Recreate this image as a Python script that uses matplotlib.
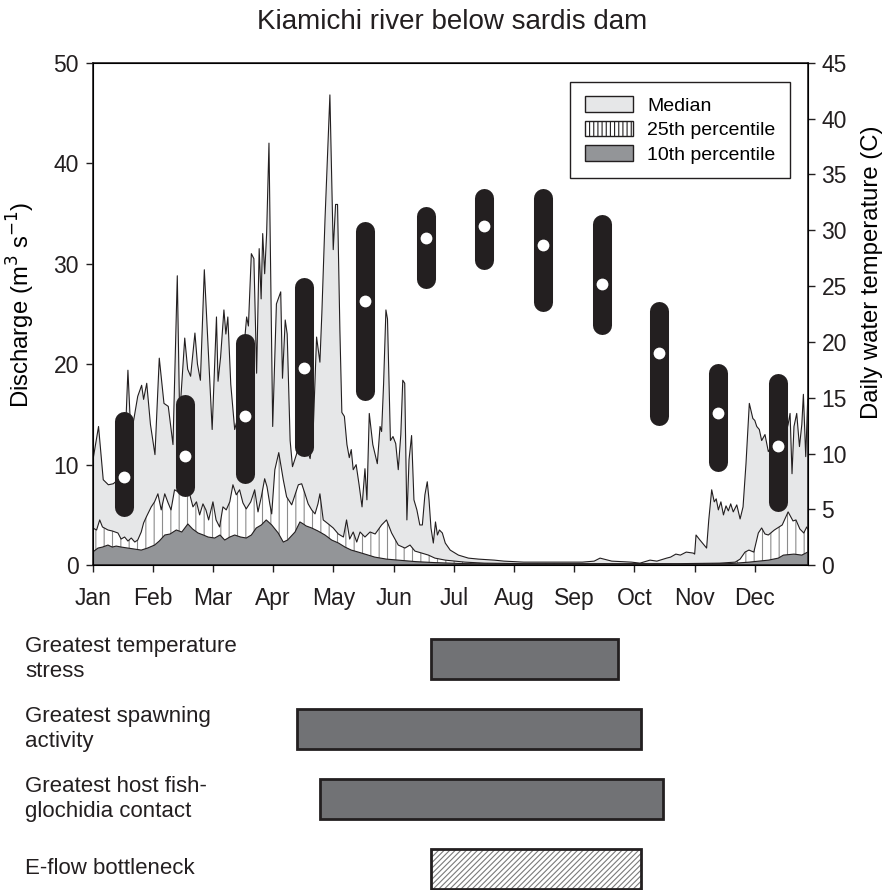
import numpy as np
import matplotlib.pyplot as plt
import matplotlib.transforms as mtransforms
from matplotlib.patches import Patch

plt.rcParams['font.family'] = ['Liberation Sans', 'DejaVu Sans']
plt.rcParams['hatch.linewidth'] = 0.8

# --- daily discharge (m3/s) ---
med_day = [0, 3, 5.4, 8, 10.5, 13, 16, 18, 19.5, 21, 23, 25, 26, 27.6, 29.5, 31.8, 34, 36.4,
           38.6, 41, 43.2, 44.4, 47, 48.5, 50, 52.2, 53.5, 55, 57, 59, 61, 63.2, 64, 65.3, 67,
           68, 69, 70.5, 72.5, 74.5, 76.5, 78.6, 79.5, 81, 82.3, 83.7, 85, 86, 86.8, 87.8, 88.8,
           90, 91.9, 93.8, 96, 96.9, 98.3, 99.3, 100.8, 102, 104, 106, 108.5, 111, 112.5, 114.3,
           116, 117, 118.6, 121.1, 122.8, 124, 125, 126.2, 127.2, 128.5, 129.8, 131, 132, 133,
           134.5, 136, 137.5, 139, 140, 141.2, 143, 145.3, 146.7, 147.5, 148.5, 149.7, 150.5,
           152, 153.3, 154.7, 156, 157.3, 158.3, 159.3, 160.4, 161.5, 162.8, 164, 165.5, 167,
           168.3, 169.6, 170.8, 171.7, 172.7, 173.9, 175, 176, 177, 178.5, 180, 182.5, 186.7,
           191.8, 197, 205, 210, 220, 235, 250, 256, 259, 261, 265, 275, 279.4, 284.5, 288, 293,
           295, 297.7, 300, 303, 306.6, 307.3, 308, 310, 313.4, 314.5, 316, 317.3, 318.3, 319.4,
           320.7, 322, 323.3, 324.5, 325.7, 327, 328.8, 330.5, 332, 333.5, 335.2, 337, 338, 339,
           340.3, 341.5, 343.2, 344.9, 347, 350, 353, 355, 356, 357, 358, 359.4, 360.8, 362,
           362.8, 364, 365]
med_q = [10.3, 13.8, 8.5, 8.0, 8.1, 8.5, 9.5, 19.4, 13.0, 14.5, 16.8, 17.9, 16.5, 18.1, 14.0,
         11.0, 20.6, 16.1, 15.8, 12.0, 28.8, 14.8, 22.6, 19.5, 18.8, 23.1, 20.0, 18.4, 29.4, 21.4,
         13.5, 24.7, 18.3, 20.7, 25.4, 23.0, 24.7, 18.0, 13.5, 15.0, 20.0, 24.7, 23.8, 31.0, 30.5,
         19.1, 31.5, 26.5, 33.0, 29.0, 33.0, 42.0, 13.8, 26.0, 27.2, 18.6, 24.4, 23.0, 12.4, 9.8,
         11.0, 12.5, 12.0, 10.6, 13.0, 22.7, 20.2, 25.1, 34.4, 46.8, 31.4, 35.9, 35.9, 23.4, 15.2,
         14.8, 12.0, 10.7, 11.5, 9.5, 10.0, 8.0, 5.8, 9.6, 6.5, 15.1, 12.0, 10.1, 13.8, 13.3,
         18.0, 25.4, 24.5, 12.4, 12.8, 12.1, 9.5, 13.0, 18.4, 18.1, 4.5, 10.5, 12.9, 6.5, 5.5,
         4.0, 4.0, 7.0, 8.3, 6.5, 3.7, 2.2, 4.3, 3.0, 3.5, 3.2, 2.2, 1.5, 1.0, 0.7, 0.6, 0.5,
         0.4, 0.3, 0.3, 0.3, 0.4, 0.7, 0.6, 0.4, 0.3, 0.2, 0.5, 0.4, 0.7, 0.8, 1.1, 1.0, 1.3,
         1.2, 1.1, 3.0, 2.5, 1.7, 4.5, 7.5, 6.3, 6.6, 5.5, 6.3, 5.0, 5.9, 5.4, 6.1, 5.3, 6.0,
         4.6, 5.8, 10.1, 16.1, 14.6, 14.4, 13.8, 13.5, 12.4, 13.0, 11.3, 12.0, 11.0, 12.5, 14.0,
         15.1, 9.1, 13.8, 15.1, 11.8, 14.0, 17.0, 10.8, 16.5]

q25_day = [0, 2, 3.6, 5, 7.8, 10, 12.9, 14.5, 16.3, 18, 19.7, 21.5, 23, 24.8, 26, 27.4, 29.9,
           31.6, 33.3, 35, 36.8, 38.5, 40, 41.8, 44.5, 47, 48.8, 51.2, 53, 54.6, 56.3, 57.8, 59.2,
           61.4, 63, 64.8, 66.5, 68.2, 70, 71.6, 73.3, 75, 76.7, 78.4, 80.7, 82.7, 84.4, 86.1,
           87.8, 89, 90.5, 91.4, 93, 95, 97.3, 99, 101.6, 103.3, 105, 106.7, 108.4, 110, 111.8,
           113.5, 115, 116, 117.7, 120.3, 122.8, 125.4, 128, 129.6, 131.2, 133, 134.8, 136.5, 139,
           141.6, 144.2, 147.5, 150, 152.6, 156, 159.4, 162, 164.5, 168, 171.4, 174.7, 180, 190,
           200, 220, 260, 300, 320, 328, 330.5, 333, 335, 337.5, 339.8, 341.5, 343.2, 344.9, 348,
           352, 355, 357.5, 359, 361, 363, 364.5, 365]
q25_q = [3.7, 3.5, 4.5, 3.8, 3.5, 3.4, 3.2, 2.6, 2.8, 2.4, 2.7, 2.3, 2.5, 3.3, 4.2, 4.8, 5.8,
         6.3, 7.1, 5.5, 7.1, 6.2, 5.5, 7.5, 7.2, 7.0, 7.6, 5.8, 6.3, 5.0, 6.1, 5.5, 4.5, 6.3, 4.5,
         3.8, 5.8, 5.5, 6.3, 8.0, 7.0, 7.5, 6.2, 5.6, 6.3, 7.5, 5.3, 6.8, 8.6, 7.8, 6.0, 5.1, 9.5,
         11.2, 8.5, 6.8, 6.0, 7.0, 8.0, 8.1, 7.1, 6.1, 5.5, 5.1, 6.1, 7.1, 4.5, 4.1, 3.7, 3.1, 2.8,
         4.5, 2.6, 3.3, 2.3, 3.3, 2.8, 3.3, 3.1, 4.0, 4.5, 3.2, 2.0, 1.7, 2.0, 1.4, 1.2, 1.0, 0.7,
         0.5, 0.3, 0.2, 0.15, 0.15, 0.15, 0.2, 0.3, 0.6, 1.3, 1.5, 1.3, 3.2, 3.7, 3.1, 3.0, 3.5,
         4.0, 5.3, 4.4, 4.5, 3.6, 3.2, 3.8, 3.6]

q10_day = [0, 2.7, 5, 7.8, 10, 12, 14.6, 18, 21.4, 24.8, 28, 31.6, 34, 36.8, 39.5, 42.7, 45.5,
           48.6, 51, 53.8, 56.5, 58.9, 62.3, 65, 67.4, 70, 72.5, 75.5, 78.4, 81, 83.5, 86.1, 88.6,
           91.4, 94.7, 97.3, 99.5, 103.3, 105.8, 107.5, 109, 111.8, 115, 118.6, 122, 125.5, 128.8,
           132, 135.6, 139, 144, 150, 156, 165, 175, 190, 220, 300, 325, 335, 345, 350, 352.6,
           358, 362, 365]
q10_q = [1.3, 1.7, 1.8, 2.0, 1.8, 1.9, 1.8, 1.7, 1.6, 1.5, 1.7, 2.0, 2.4, 3.0, 3.1, 3.5, 3.3,
         4.1, 3.6, 3.2, 3.0, 2.8, 2.7, 3.0, 2.5, 2.8, 3.0, 2.8, 2.7, 3.0, 3.7, 4.0, 4.5, 4.0, 3.2,
         2.3, 2.5, 3.3, 4.3, 4.1, 3.9, 3.7, 3.4, 3.0, 2.5, 2.2, 1.8, 1.5, 1.3, 1.1, 0.8, 0.6, 0.5,
         0.35, 0.25, 0.15, 0.1, 0.1, 0.15, 0.3, 0.5, 0.7, 1.0, 1.1, 1.0, 1.3]

# --- monthly water temperature (C): range and mean ---
temp_day = [16, 47, 78, 108, 139, 170, 200, 230, 260, 289, 319, 350]
temp_lo = [5.2, 7.0, 8.2, 10.6, 15.6, 25.6, 27.3, 23.6, 21.5, 13.4, 9.2, 5.7]
temp_hi = [12.9, 14.4, 19.9, 24.9, 29.9, 31.3, 32.9, 32.9, 30.6, 22.8, 17.2, 16.3]
temp_mid = [7.9, 9.8, 13.4, 17.7, 23.7, 29.3, 30.4, 28.7, 25.2, 19.0, 13.6, 10.7]

months = ['Jan', 'Feb', 'Mar', 'Apr', 'May', 'Jun', 'Jul', 'Aug', 'Sep', 'Oct', 'Nov', 'Dec']

# --- life-history periods (day of year) ---
periods = ['Greatest temperature\nstress', 'Greatest spawning\nactivity',
           'Greatest host fish-\nglochidia contact', 'E-flow bottleneck']
period_start = [172.5, 104.5, 116, 172.5]
period_end = [268, 280, 291, 280]

ink = '#231f20'

fig = plt.figure(figsize=(8.91, 8.90), dpi=100)
ax = fig.add_axes([0.104, 0.365, 0.8025, 0.5645])

ax.fill_between(med_day, 0, med_q, facecolor='#e6e7e8', lw=0)
ax.plot(med_day, med_q, color=ink, lw=0.8)
ax.fill_between(q25_day, 0, q25_q, facecolor='white', edgecolor='#8c8c8c', hatch='||', lw=0)
ax.plot(q25_day, q25_q, color=ink, lw=0.8)
ax.fill_between(q10_day, 0, q10_q, facecolor='#939598', lw=0)
ax.plot(q10_day, q10_q, color=ink, lw=0.8)

ax.set_xlim(0, 365)
ax.set_ylim(0, 50)
ax.set_yticks(np.arange(0, 51, 10))
ax.set_xticks(np.arange(12) * 30.73)
ax.set_xticklabels(months)
ax.set_ylabel('Discharge (m$^3$ s$^{-1}$)', fontsize=17.2)
ax.yaxis.set_label_coords(-0.078, 0.518)
ax.tick_params(direction='out', length=5, width=1, labelsize=16.5, colors=ink, pad=5)
ax.tick_params(axis='x', pad=11)
for s in ax.spines.values():
    s.set_linewidth(1.2)
    s.set_color(ink)

ax2 = ax.twinx()
ax2.set_ylim(0, 45)
ax2.set_yticks(np.arange(0, 46, 5))
for d, lo, hi in zip(temp_day, temp_lo, temp_hi):
    ax2.plot([d, d], [lo, hi], color=ink, lw=13.7, solid_capstyle='round')
ax2.plot(temp_day, temp_mid, 'o', color='white', ms=8.5, mec='none')
ax2.set_ylabel('Daily water temperature (C)', fontsize=17.2)
ax2.yaxis.set_label_coords(1.075, 0.583)
ax2.tick_params(direction='out', length=5, width=1, labelsize=16.5, colors=ink, pad=5)

handles = [Patch(facecolor='#e6e7e8', edgecolor=ink, lw=1),
           Patch(facecolor='white', edgecolor=ink, hatch='||||', lw=1),
           Patch(facecolor='#939598', edgecolor=ink, lw=1)]
leg = ax2.legend(handles, ['Median', '25th percentile', '10th percentile'],
                 loc='upper right', bbox_to_anchor=(0.975, 0.962), borderaxespad=0,
                 fontsize=14, fancybox=False, edgecolor=ink, framealpha=1,
                 handlelength=2.5, handleheight=0.85, borderpad=0.75, labelspacing=0.3,
                 handletextpad=0.7)
leg.get_frame().set_linewidth(1)

fig.text(0.507, 0.975, 'Kiamichi river below sardis dam', ha='center', va='center',
         fontsize=20, color=ink)

# --- bottom panel: periods ---
axb = fig.add_axes([0.104, 0.0, 0.8025, 260 / 890])
axb.set_xlim(0, 365)
axb.set_ylim(3.3, -0.414)
axb.axis('off')
rows = np.arange(len(periods))
widths = [e - s for s, e in zip(period_start, period_end)]
axb.barh(rows[:3], widths[:3], left=period_start[:3], height=0.58,
         color='#717275', edgecolor=ink, lw=2)
axb.barh(rows[3], widths[3], left=period_start[3], height=0.58,
         color='white', edgecolor='#7a7a7a', hatch='//////', lw=0)
axb.barh(rows[3], widths[3], left=period_start[3], height=0.58,
         fill=False, edgecolor=ink, lw=2)
trans = mtransforms.blended_transform_factory(fig.transFigure, axb.transData)
for r, lab in zip(rows, periods):
    axb.text(0.028, r, lab, transform=trans, ha='left', va='center', fontsize=16,
             color=ink, linespacing=1.2)

fig.savefig('out.png', dpi=100)
